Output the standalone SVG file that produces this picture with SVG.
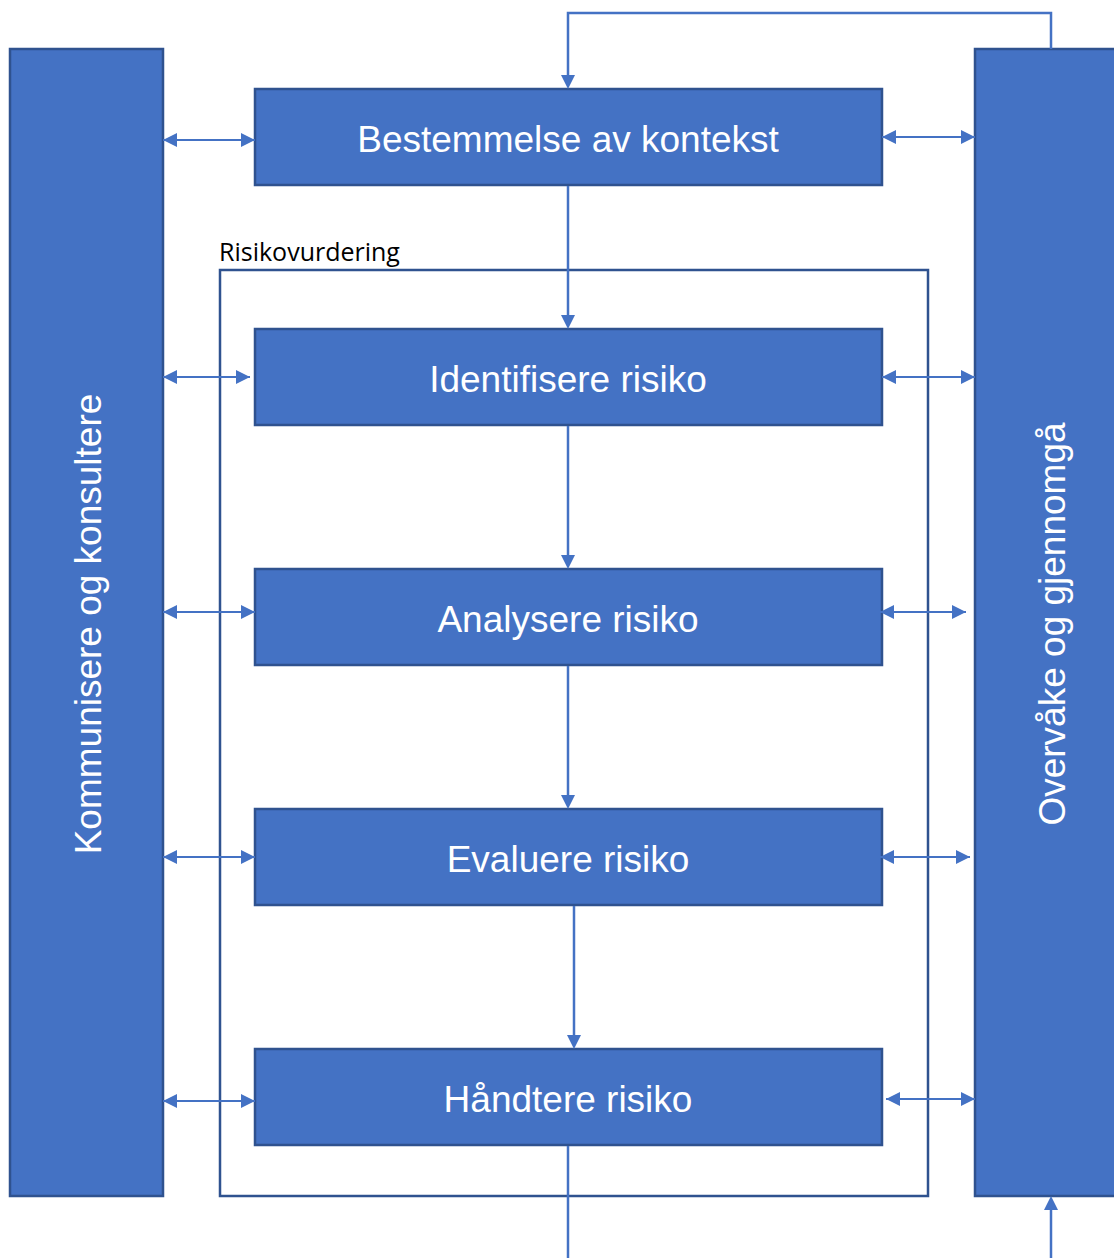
<svg xmlns="http://www.w3.org/2000/svg" width="1114" height="1258" viewBox="0 0 1114 1258">
  <style>
    .box { fill: #4472C4; stroke: #2F528F; stroke-width: 2.5; }
    .frame { fill: none; stroke: #2F528F; stroke-width: 2.5; }
    .lbl { fill: #FFFFFF; font-family: "Liberation Sans", Arial, sans-serif; font-size: 37px; text-anchor: middle; }
    .cap { fill: #000000; font-family: "Open Sans", "Liberation Sans", sans-serif; font-size: 25px; }
    .con { fill: none; stroke: #4472C4; stroke-width: 2.5; }
    .dbl { fill: none; stroke: #4472C4; stroke-width: 1.8; marker-start: url(#tail); marker-end: url(#head); }
  </style>
  <defs>
    <marker id="head" markerWidth="14" markerHeight="14" viewBox="0 0 14 14" refX="14" refY="7" orient="auto" markerUnits="userSpaceOnUse">
      <path d="M0,0 L14,7 L0,14 Z" fill="#4472C4"/>
    </marker>
    <marker id="tail" markerWidth="14" markerHeight="14" viewBox="0 0 14 14" refX="0" refY="7" orient="auto" markerUnits="userSpaceOnUse">
      <path d="M14,0 L0,7 L14,14 Z" fill="#4472C4"/>
    </marker>
  </defs>

  <!-- side bars -->
  <g id="kommunisere">
    <rect class="box" x="10" y="49" width="153" height="1147"/>
    <text class="lbl" transform="translate(101,624) rotate(-90)">Kommunisere og konsultere</text>
  </g>
  <g id="overvake">
    <rect class="box" x="975" y="49" width="145" height="1147"/>
    <text class="lbl" transform="translate(1065,624) rotate(-90)">Overvåke og gjennomgå</text>
  </g>

  <!-- risk assessment frame -->
  <g id="risikovurdering">
    <rect class="frame" x="220" y="270" width="708" height="926"/>
    <text class="cap" x="219" y="261">Risikovurdering</text>
  </g>

  <!-- process steps -->
  <g id="kontekst">
    <rect class="box" x="255" y="89" width="627" height="96"/>
    <text class="lbl" x="568" y="152">Bestemmelse av kontekst</text>
  </g>
  <g id="identifisere">
    <rect class="box" x="255" y="329" width="627" height="96"/>
    <text class="lbl" x="568" y="392">Identifisere risiko</text>
  </g>
  <g id="analysere">
    <rect class="box" x="255" y="569" width="627" height="96"/>
    <text class="lbl" x="568" y="632">Analysere risiko</text>
  </g>
  <g id="evaluere">
    <rect class="box" x="255" y="809" width="627" height="96"/>
    <text class="lbl" x="568" y="872">Evaluere risiko</text>
  </g>
  <g id="handtere">
    <rect class="box" x="255" y="1049" width="627" height="96"/>
    <text class="lbl" x="568" y="1112">Håndtere risiko</text>
  </g>

  <!-- connectors -->
  <g id="connectors">
    <!-- feedback loop from monitoring back to context -->
    <path class="con" d="M1051,49 V13 H568 V76"/>
    <path d="M561,75 L568,89 L575,75 Z" fill="#4472C4"/>
    <!-- main flow -->
    <path class="con" d="M568,186 V316"/>
    <path d="M561,315 L568,329 L575,315 Z" fill="#4472C4"/>
    <path class="con" d="M568,426 V556"/>
    <path d="M561,555 L568,569 L575,555 Z" fill="#4472C4"/>
    <path class="con" d="M568,666 V796"/>
    <path d="M561,795 L568,809 L575,795 Z" fill="#4472C4"/>
    <path class="con" d="M574,906 V1036"/>
    <path d="M567,1035 L574,1049 L581,1035 Z" fill="#4472C4"/>
    <path class="con" d="M568,1146 V1258"/>
    <!-- into monitoring from below -->
    <path class="con" d="M1051,1258 V1209"/>
    <path d="M1044,1210 L1051,1196 L1058,1210 Z" fill="#4472C4"/>

    <!-- communication arrows (left) -->
    <line class="dbl" x1="163" y1="140" x2="255" y2="140"/>
    <line class="dbl" x1="163" y1="377" x2="250" y2="377"/>
    <line class="dbl" x1="163" y1="612" x2="255" y2="612"/>
    <line class="dbl" x1="163" y1="857" x2="255" y2="857"/>
    <line class="dbl" x1="163" y1="1101" x2="255" y2="1101"/>

    <!-- monitoring arrows (right) -->
    <line class="dbl" x1="882" y1="137" x2="975" y2="137"/>
    <line class="dbl" x1="882" y1="377" x2="975" y2="377"/>
    <line class="dbl" x1="880" y1="612" x2="966" y2="612"/>
    <line class="dbl" x1="880" y1="857" x2="970" y2="857"/>
    <line class="dbl" x1="886" y1="1099" x2="975" y2="1099"/>
  </g>
</svg>
